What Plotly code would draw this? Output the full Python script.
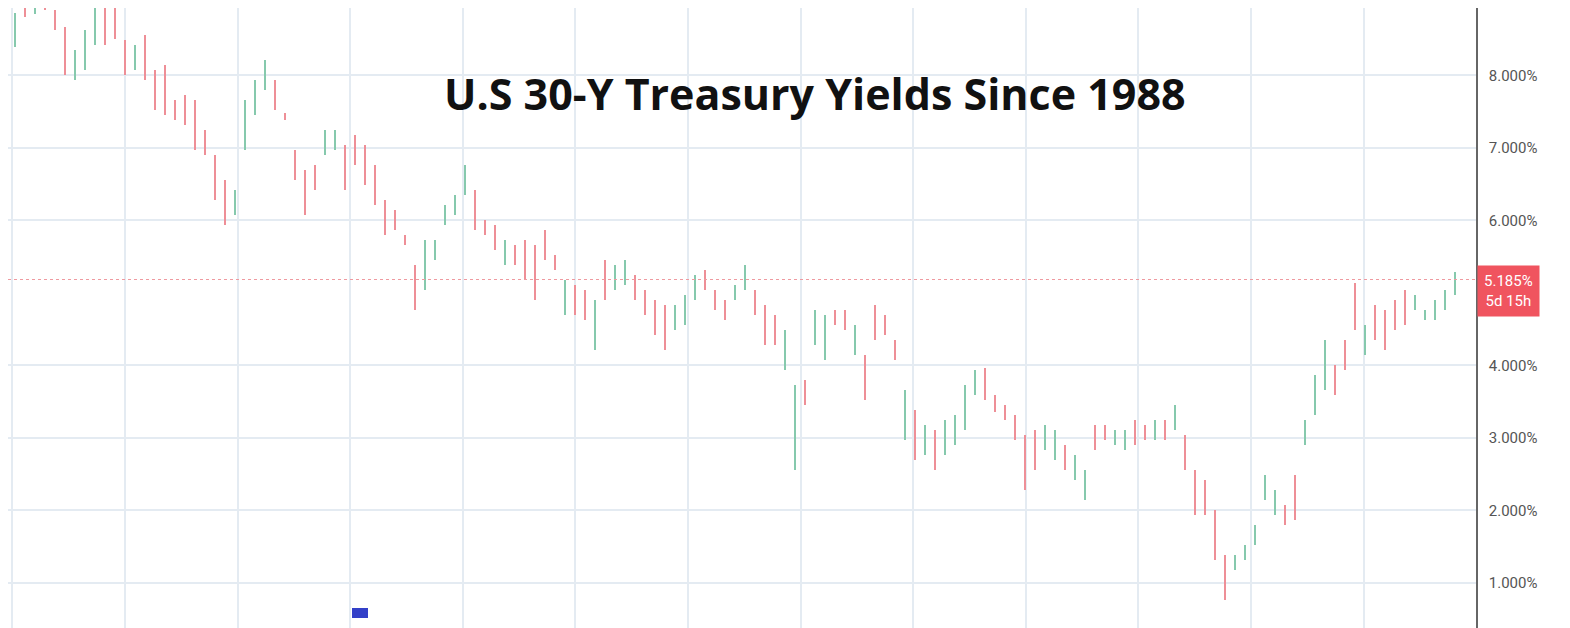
import plotly.graph_objects as go

# Bar ranges (percent), oldest to newest
HIGHS = [9.04, 8.86, 9.0, 9.0, 9.02, 8.9, 8.67, 8.35, 8.63, 9.04,
         9.0, 9.0, 8.49, 8.42, 8.56, 8.07, 8.14, 7.66, 7.73, 7.66,
         7.25, 6.9, 6.56, 6.42, 7.66, 7.94, 8.21, 7.94, 7.48, 6.97,
         6.7, 6.76, 7.25, 7.25, 7.04, 7.18, 7.04, 6.76, 6.28, 6.14,
         5.8, 5.38, 5.73, 5.73, 6.21, 6.35, 6.76, 6.42, 6.0, 5.94,
         5.73, 5.66, 5.73, 5.66, 5.87, 5.52, 5.18, 5.11, 5.04, 4.9,
         5.45, 5.38, 5.45, 5.25, 5.04, 4.9, 4.83, 4.83, 4.97, 5.25,
         5.32, 5.04, 4.9, 5.11, 5.38, 5.04, 4.83, 4.7, 4.49, 3.73,
         3.8, 4.76, 4.7, 4.76, 4.76, 4.56, 4.14, 4.83, 4.7, 4.35,
         3.66, 3.38, 3.18, 3.11, 3.25, 3.32, 3.73, 3.94, 3.96, 3.59,
         3.45, 3.32, 3.04, 3.11, 3.18, 3.11, 2.9, 2.76, 2.56, 3.18,
         3.18, 3.11, 3.11, 3.25, 3.18, 3.25, 3.25, 3.45, 3.04, 2.56,
         2.42, 2.0, 1.38, 1.38, 1.52, 1.8, 2.49, 2.28, 2.07, 2.49,
         3.25, 3.87, 4.35, 4.0, 4.35, 5.14, 4.56, 4.83, 4.76, 4.9,
         5.04, 4.97, 4.76, 4.9, 5.04, 5.29]
LOWS = [8.56, 8.39, 8.8, 8.85, 8.9, 8.63, 8.0, 7.94, 8.07, 8.42,
        8.42, 8.5, 8.0, 8.07, 7.94, 7.52, 7.45, 7.38, 7.32, 6.97,
        6.9, 6.28, 5.94, 6.07, 6.97, 7.45, 7.8, 7.52, 7.38, 6.56,
        6.07, 6.42, 6.9, 6.97, 6.42, 6.76, 6.49, 6.21, 5.8, 5.87,
        5.66, 4.76, 5.04, 5.45, 5.94, 6.07, 6.35, 5.87, 5.8, 5.59,
        5.38, 5.38, 5.18, 4.9, 5.45, 5.32, 4.7, 4.7, 4.63, 4.21,
        4.9, 5.04, 5.11, 4.9, 4.7, 4.42, 4.21, 4.49, 4.56, 4.9,
        5.04, 4.76, 4.63, 4.9, 5.04, 4.7, 4.28, 4.28, 3.94, 2.56,
        3.45, 4.28, 4.07, 4.56, 4.49, 4.14, 3.52, 4.35, 4.42, 4.07,
        2.97, 2.69, 2.76, 2.56, 2.76, 2.9, 3.11, 3.59, 3.52, 3.36,
        3.25, 2.97, 2.28, 2.56, 2.83, 2.69, 2.56, 2.42, 2.14, 2.83,
        2.97, 2.9, 2.83, 2.9, 2.97, 2.97, 2.97, 3.11, 2.56, 1.94,
        1.94, 1.32, 0.76, 1.18, 1.32, 1.52, 2.14, 1.94, 1.8, 1.87,
        2.9, 3.32, 3.66, 3.59, 3.94, 4.49, 4.14, 4.35, 4.21, 4.49,
        4.56, 4.76, 4.63, 4.63, 4.76, 4.97]
DIRECTION = "dududdduuuddduddddddddduuuuddddduuddddddddu" \
            "uuuudddudddddudduduudddduuuddduudd" \
            "duuduudduddddududuuuudddddduuduudduuddu" \
            "duddddduuuuudduuudddudddd"
TICK_VALUES = [1, 2, 3, 4, 6, 7, 8, 9]
LAST_PRICE = 5.185
TITLE = "U.S 30-Y Treasury Yields Since 1988"

UP = "#86c9ad"
DOWN = "#ee8f97"
OFF = 8            # page body margin
AXIS_X = 1476      # page x of the price axis
W, H = 1570, 628
PLOT_W = AXIS_X - OFF


def px(p):  # page x -> paper x
    return (p - OFF) / PLOT_W


def py(p):  # page y -> paper y
    return 1 - (p - OFF) / H


n = len(HIGHS)
idx = list(range(n))
dirs = (DIRECTION + "u" * n)[:n]
colors = [UP if d == "u" else DOWN for d in dirs]

fig = go.Figure()
fig.add_trace(go.Bar(
    x=idx, base=LOWS, y=[h - l for h, l in zip(HIGHS, LOWS)],
    width=0.28, marker=dict(color=colors, line_width=0),
    hoverinfo="skip", showlegend=False,
))

fig.add_hline(y=LAST_PRICE, line=dict(color="#ef9aa0", width=1.2, dash="dot"))

fig.update_layout(
    width=W, height=H,
    margin=dict(l=0, r=W - PLOT_W, t=0, b=0, autoexpand=False),
    paper_bgcolor="white", plot_bgcolor="white",
    bargap=0,
    xaxis=dict(range=[(OFF - 5) / 10, (AXIS_X - 5) / 10], tick0=12, dtick=11.26,
               showticklabels=False, showgrid=True, gridcolor="#e4ebf2", gridwidth=1.5,
               zeroline=False),
    yaxis=dict(range=[9.04 - (H + OFF) / 72.5, 9.04 - OFF / 72.5], side="right",
               tickvals=TICK_VALUES, ticktext=[f"{v:.3f}%" for v in TICK_VALUES],
               showgrid=True, gridcolor="#e4ebf2", gridwidth=1.5, zeroline=False,
               showline=True, linecolor="#666", linewidth=1.5, ticks="",
               tickfont=dict(family="Roboto", size=15, color="#555"), ticklabelstandoff=8),
)

fig.add_annotation(x=px(815), y=py(93), xref="paper", yref="paper", yanchor="middle",
                   text="<b>" + TITLE + "</b>", showarrow=False,
                   font=dict(family="Open Sans", size=43, color="#111"))

fig.add_annotation(x=1.0, xref="paper", xanchor="left", y=LAST_PRICE, yref="y",
                   text=f"{LAST_PRICE:.3f}%<br>5d 15h", showarrow=False,
                   bgcolor="#f0545f", font=dict(family="Roboto", size=15, color="white"),
                   borderpad=6, align="center", xshift=1, yshift=-12)

fig.add_shape(type="rect", xref="paper", yref="paper",
              x0=px(352), x1=px(368), y0=py(618), y1=py(608),
              fillcolor="#3340c8", line_width=0)

fig.write_html("out.html")
